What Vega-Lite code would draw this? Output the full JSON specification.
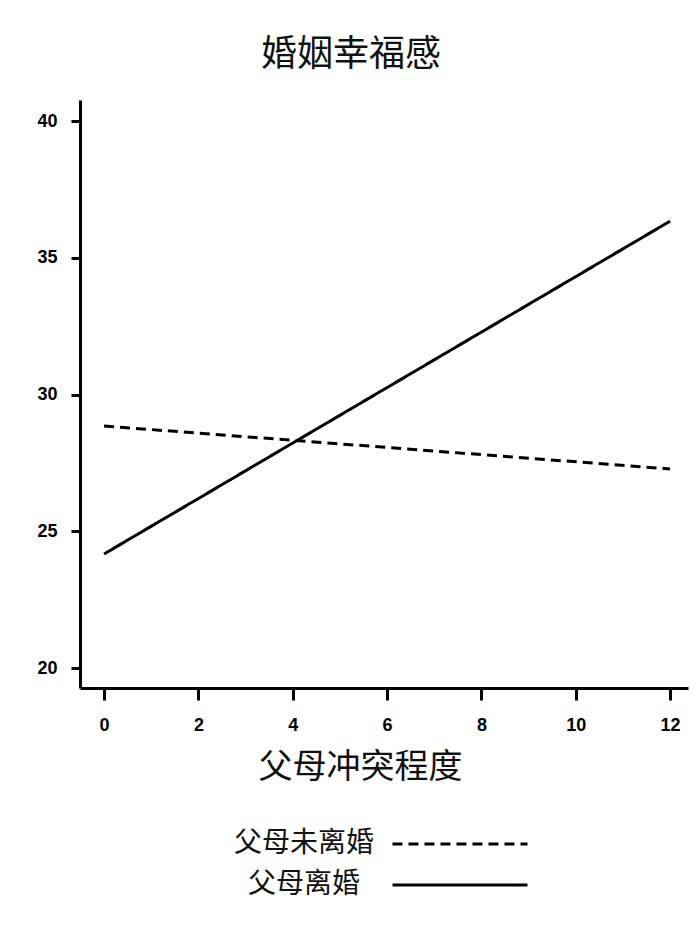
{
  "$schema": "https://vega.github.io/schema/vega-lite/v6.json",
  "autosize": "none",
  "width": 608,
  "height": 588,
  "padding": {"left": 80, "top": 100, "right": 12, "bottom": 248},
  "background": "white",
  "title": {
    "text": "婚姻幸福感",
    "font": "Noto Sans CJK SC",
    "fontSize": 36,
    "fontWeight": "normal",
    "color": "#111",
    "anchor": "middle",
    "dx": -33,
    "offset": 26
  },
  "data": {
    "values": [
      {"conflict": 0, "happiness": 28.85, "group": "父母未离婚"},
      {"conflict": 12, "happiness": 27.28, "group": "父母未离婚"},
      {"conflict": 0, "happiness": 24.17, "group": "父母离婚"},
      {"conflict": 12, "happiness": 36.34, "group": "父母离婚"}
    ]
  },
  "config": {
    "view": {"stroke": null},
    "axis": {"grid": false}
  },
  "mark": {"type": "line", "color": "black", "strokeWidth": 3},
  "encoding": {
    "x": {
      "field": "conflict",
      "type": "quantitative",
      "scale": {"domain": [-0.51, 12.38], "nice": false, "zero": false},
      "axis": {
        "values": [0, 2, 4, 6, 8, 10, 12],
        "title": "父母冲突程度",
        "titleFont": "Noto Sans CJK SC",
        "titleFontSize": 34,
        "titleFontWeight": "normal",
        "titleColor": "#111",
        "titleX": 280,
        "titleY": 79,
        "titleBaseline": "middle",
        "domainColor": "black",
        "domainWidth": 3,
        "tickColor": "black",
        "tickWidth": 3,
        "tickSize": 12,
        "labelFont": "Liberation Sans",
        "labelFontWeight": "bold",
        "labelFontSize": 18,
        "labelColor": "black",
        "labelPadding": 16
      }
    },
    "y": {
      "field": "happiness",
      "type": "quantitative",
      "scale": {"domain": [19.27, 40.77], "nice": false, "zero": false},
      "axis": {
        "values": [20, 25, 30, 35, 40],
        "title": null,
        "domainColor": "black",
        "domainWidth": 3,
        "tickColor": "black",
        "tickWidth": 3,
        "tickSize": 9,
        "labelFont": "Liberation Sans",
        "labelFontWeight": "bold",
        "labelFontSize": 18,
        "labelColor": "black",
        "labelPadding": 14
      }
    },
    "strokeDash": {
      "field": "group",
      "type": "nominal",
      "scale": {"domain": ["父母未离婚", "父母离婚"], "range": [[10, 6], [1, 0]]},
      "legend": {
        "orient": "none",
        "legendX": 356,
        "legendY": 720,
        "title": null,
        "symbolType": "M-3,0H3",
        "symbolSize": 2025,
        "symbolStrokeWidth": 3,
        "symbolStrokeColor": "black",
        "labelAlign": "center",
        "labelOffset": -180,
        "labelFont": "Noto Sans CJK SC",
        "labelFontSize": 28,
        "labelColor": "#111",
        "labelLimit": 300,
        "rowPadding": 3
      }
    }
  }
}
